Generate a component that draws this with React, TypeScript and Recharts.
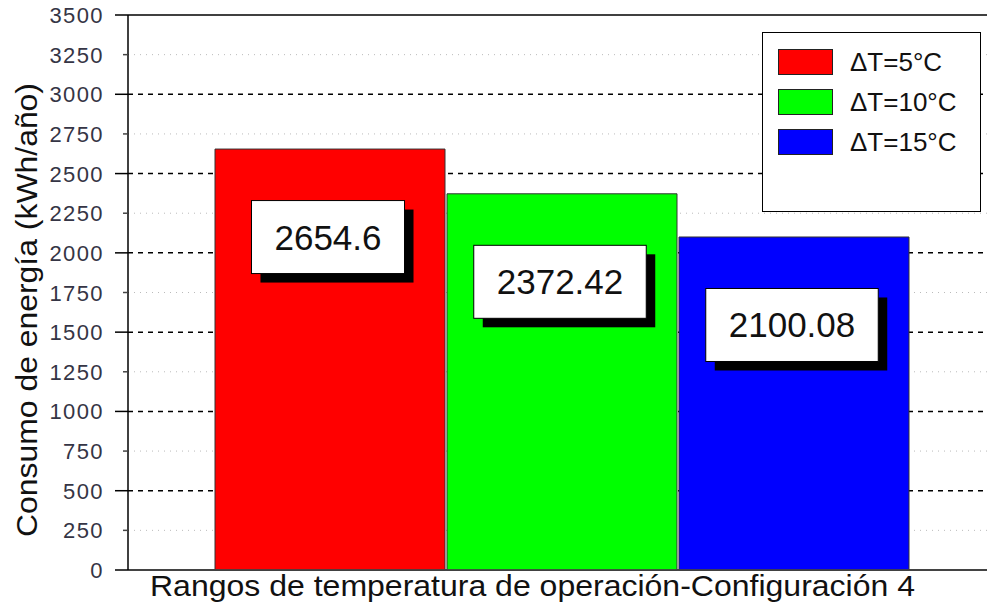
import { Bar, BarChart, CartesianGrid, LabelList, XAxis, YAxis } from "recharts";

const categories = ["Configuración 4"];
const seriesNames = ["ΔT=5°C", "ΔT=10°C", "ΔT=15°C"];
const seriesValues = [2654.6, 2372.42, 2100.08];
const seriesColors = ["#ff0000", "#00ff00", "#0000ff"];
const yTicks = [0, 250, 500, 750, 1000, 1250, 1500, 1750, 2000, 2250, 2500, 2750, 3000, 3250, 3500];

const FONT = "Arial, 'Liberation Sans', sans-serif";

const data = categories.map((cat) => {
  const row: Record<string, string | number> = { cat };
  seriesValues.forEach((v, i) => (row[`s${i}`] = v));
  return row;
});

const gridLine = (p: any) => {
  const i = p.index;
  const last = yTicks.length - 1;
  if (i === 0 || i === last) {
    return <line key={p.key} x1={p.x1} x2={p.x2} y1={p.y1} y2={p.y2} stroke="#000" strokeWidth={1.5} />;
  }
  const major = i % 2 === 0;
  return (
    <line
      key={p.key}
      x1={p.x1}
      x2={p.x2}
      y1={p.y1}
      y2={p.y2}
      stroke={major ? "#000" : "#bbb"}
      strokeWidth={major ? 1.5 : 1}
      strokeDasharray={major ? "5 5" : "1 5"}
    />
  );
};

const yTick = (p: any) => {
  const v = Number(p.payload.value);
  const major = v % 500 === 0;
  return (
    <g>
      <line x1={p.x - (major ? 13 : 5)} x2={p.x} y1={p.y} y2={p.y} stroke={major ? "#000" : "#444"} strokeWidth={1.5} />
      <text
        x={p.x - 24}
        y={p.y + 8}
        textAnchor="end"
        fontSize={22}
        letterSpacing={1.4}
        fill="#353545"
        fontFamily={FONT}
      >
        {v}
      </text>
    </g>
  );
};

const valueBox = (props: any) => {
  const { x, y, width, value } = props;
  const txt = String(value);
  const fs = 35;
  const tw = txt.split("").reduce((s, c) => s + (c === "." ? 0.278 : 0.556), 0) * fs;
  const bw = tw + 46;
  const bh = 73;
  const cx = x + width / 2 - 2;
  const top = y + 88 - bh / 2;
  return (
    <g>
      <rect x={cx - bw / 2 + 9} y={top + 9} width={bw} height={bh} fill="#000" />
      <rect x={cx - bw / 2} y={top} width={bw} height={bh} fill="#fff" stroke="#000" strokeWidth={1} />
      <text x={cx} y={top + bh / 2 + 12.5} textAnchor="middle" fontSize={fs} fill="#111" fontFamily={FONT}>
        {txt}
      </text>
    </g>
  );
};

function LegendBox() {
  return (
    <div
      style={{
        position: "absolute",
        left: 762,
        top: 32,
        width: 219,
        height: 180,
        boxSizing: "border-box",
        border: "1.5px solid #000",
        background: "#fff",
        fontFamily: FONT,
      }}
    >
      {seriesNames.map((n, i) => (
        <div
          key={n}
          style={{ position: "absolute", left: 15, top: 16 + i * 40, display: "flex", alignItems: "center" }}
        >
          <span
            style={{
              display: "inline-block",
              width: 55,
              height: 26,
              background: seriesColors[i],
              border: "1px solid #222",
              boxSizing: "border-box",
            }}
          />
          <span style={{ marginLeft: 17, fontSize: 26, color: "#111", lineHeight: "26px" }}>{n}</span>
        </div>
      ))}
    </div>
  );
}

export default function App() {
  return (
    <div
      style={{
        position: "absolute",
        left: 0,
        top: 0,
        width: 987,
        height: 604,
        overflow: "hidden",
        background: "#fff",
      }}
    >
      <BarChart width={1000} height={604} data={data} margin={{ top: 15, right: 4, left: 0, bottom: 0 }} barGap={2}>
        <CartesianGrid vertical={false} horizontal={gridLine} />
        <XAxis
          dataKey="cat"
          tick={false}
          tickLine={false}
          height={34}
          axisLine={{ stroke: "#444", strokeWidth: 1.5 }}
          label={{
            content: () => (
              <text
                x={150}
                y={596}
                fontSize={29}
                textLength={765}
                lengthAdjust="spacingAndGlyphs"
                fill="#111"
                fontFamily={FONT}
              >
                Rangos de temperatura de operación-Configuración 4
              </text>
            ),
          }}
        />
        <YAxis
          domain={[0, 3500]}
          ticks={yTicks}
          interval={0}
          width={128}
          tickLine={false}
          tickSize={0}
          tickMargin={0}
          tick={yTick}
          axisLine={{ stroke: "#000", strokeWidth: 1.5 }}
          label={{
            content: () => (
              <text
                x={37}
                y={537}
                transform="rotate(-90 37 537)"
                fontSize={30}
                textLength={454}
                lengthAdjust="spacingAndGlyphs"
                fill="#111"
                fontFamily={FONT}
              >
                Consumo de energía (kWh/año)
              </text>
            ),
          }}
        />
        {seriesNames.map((n, i) => (
          <Bar
            key={n}
            dataKey={`s${i}`}
            name={n}
            fill={seriesColors[i]}
            stroke="#333"
            strokeWidth={1}
            barSize={230}
            isAnimationActive={false}
          >
            <LabelList dataKey={`s${i}`} content={valueBox} />
          </Bar>
        ))}
      </BarChart>
      <LegendBox />
    </div>
  );
}
